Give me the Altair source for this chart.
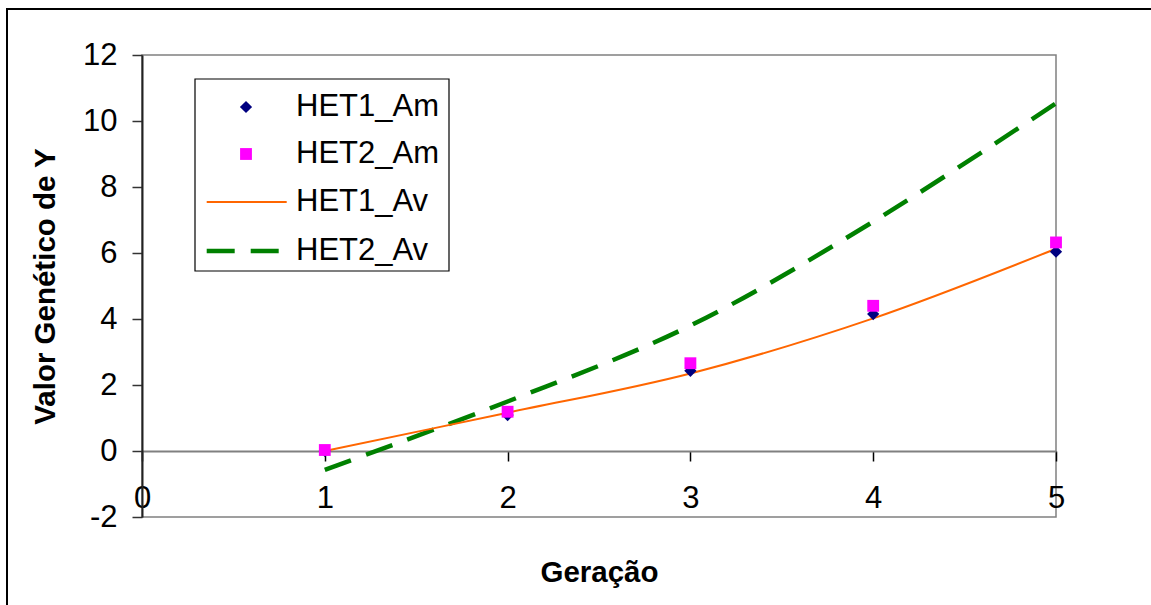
import altair as alt
import pandas as pd

# ---- data ----
geracao = [1, 2, 3, 4, 5]
het1_am = [0.0, 1.09, 2.43, 4.15, 6.04]
het2_am = [0.03, 1.19, 2.66, 4.40, 6.32]
het1_av = [0.0, 1.16, 2.35, 4.02, 6.13]
het2_av = [-0.57, 1.50, 3.80, 6.95, 10.54]

x_ticks = [0, 1, 2, 3, 4, 5]
y_ticks = [-2, 0, 2, 4, 6, 8, 10, 12]
legend_labels = ["HET1_Am", "HET2_Am", "HET1_Av", "HET2_Av"]

FONT = "Liberation Sans"
FS = 31
FSB = 29.5

df = pd.DataFrame({
    "g": geracao,
    "h1am": het1_am,
    "h2am": het2_am,
    "h1av": het1_av,
    "h2av": het2_av,
})

xs = alt.Scale(domain=[0, 5], nice=False, zero=False)
ys = alt.Scale(domain=[-2, 12], nice=False, zero=False)

x_axis = alt.Axis(
    values=x_ticks, offset=-66, tickSize=10, tickColor="#000000", tickWidth=1.5,
    domainColor="#808080", domainWidth=2, labelPadding=22,
    labelExpr="'' + datum.value",
    labelFont=FONT, labelFontSize=FS, labelColor="#000000",
    labelFlush=False, labelOverlap=False, labelBound=False, grid=False,
    title="Geração", titleFont=FONT, titleFontSize=FSB, titleFontWeight="bold",
    titleColor="#000000", titleX=457, titleY=121, titleAlign="center",
    titleBaseline="middle",
)
y_axis = alt.Axis(
    values=y_ticks, tickSize=10, tickColor="#333333", tickWidth=1.5,
    domainColor="#222222", domainWidth=2, labelPadding=15,
    labelExpr="'' + datum.value",
    labelFont=FONT, labelFontSize=FS, labelColor="#000000",
    labelFlush=False, labelOverlap=False, labelBound=False, grid=False,
    title="Valor Genético de Y", titleFont=FONT, titleFontSize=FSB,
    titleFontWeight="bold", titleColor="#000000", titleX=-97, titleY=231,
    titleAngle=270, titleAlign="center", titleBaseline="middle",
)

base = alt.Chart(df)

line2 = base.mark_line(color="#008000", strokeWidth=4.5, strokeDash=[28, 16],
                       interpolate="cardinal").encode(
    x=alt.X("g:Q", scale=xs, axis=x_axis),
    y=alt.Y("h2av:Q", scale=ys, axis=y_axis),
)
line1 = base.mark_line(color="#FF6600", strokeWidth=2,
                       interpolate="cardinal").encode(
    x=alt.X("g:Q", scale=xs), y=alt.Y("h1av:Q", scale=ys))
pts1 = base.mark_point(shape="diamond", filled=True, size=150, opacity=1,
                       color="#000080").encode(
    x=alt.X("g:Q", scale=xs), y=alt.Y("h1am:Q", scale=ys))
pts2 = base.mark_point(shape="square", filled=True, size=140, opacity=1,
                       color="#FF00FF").encode(
    x=alt.X("g:Q", scale=xs), y=alt.Y("h2am:Q", scale=ys))

one = alt.Data(values=[{"k": 0}])

# outer chart border (right/bottom edges fall outside the window)
outer = alt.Chart(one).mark_rect(fill=None, stroke="#000000", strokeWidth=2).encode(
    x=alt.value(-135), x2=alt.value(2000), y=alt.value(-46), y2=alt.value(2000))

# legend
leg_box = alt.Chart(one).mark_rect(fill="#FFFFFF", stroke="#000000", strokeWidth=1.2).encode(
    x=alt.value(53), x2=alt.value(307), y=alt.value(24), y2=alt.value(216))
row_y = [52, 99, 147, 196]
leg_d = alt.Chart(one).mark_point(shape="diamond", filled=True, size=150, opacity=1,
                                  color="#000080").encode(
    x=alt.value(104), y=alt.value(row_y[0]))
leg_s = alt.Chart(one).mark_point(shape="square", filled=True, size=140, opacity=1,
                                  color="#FF00FF").encode(
    x=alt.value(104), y=alt.value(row_y[1]))
leg_o = alt.Chart(one).mark_rule(color="#FF6600", strokeWidth=2).encode(
    x=alt.value(64.7), x2=alt.value(144.7), y=alt.value(row_y[2]))
leg_g = alt.Chart(one).mark_rule(color="#008000", strokeWidth=4.5, strokeDash=[28, 16]).encode(
    x=alt.value(64.7), x2=alt.value(144.7), y=alt.value(row_y[3]))
leg_txt = [
    alt.Chart(one).mark_text(text=lab, font=FONT, fontSize=FS, align="left",
                             baseline="middle", color="#000000").encode(
        x=alt.value(154), y=alt.value(yy))
    for lab, yy in zip(legend_labels, row_y)
]

chart = alt.layer(
    outer, line2, line1, pts1, pts2, leg_box, leg_d, leg_s, leg_o, leg_g, *leg_txt
).properties(
    width=914, height=462,
    autosize=alt.AutoSizeParams(type="none"),
    padding={"left": 142, "top": 55, "right": 95, "bottom": 88},
    background="#FFFFFF",
).configure_view(stroke="#808080", strokeWidth=1.5)

chart.save("out.html", embed_options={"renderer": "svg", "actions": False})
